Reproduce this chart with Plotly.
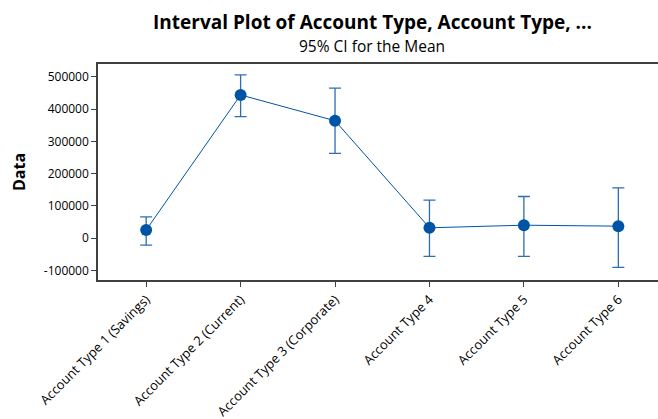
import plotly.graph_objects as go

categories = ["Account Type 1 (Savings)", "Account Type 2 (Current)", "Account Type 3 (Corporate)",
              "Account Type 4", "Account Type 5", "Account Type 6"]
means = [25000, 444000, 364000, 32000, 40000, 37000]
upper = [66000, 506000, 465000, 118000, 129000, 156000]
lower = [-22000, 377000, 263000, -57000, -57000, -91000]
y_ticks = [-100000, 0, 100000, 200000, 300000, 400000, 500000]

err_plus = [u - m for u, m in zip(upper, means)]
err_minus = [m - l for m, l in zip(means, lower)]

blue = "#0054A6"
font_family = "Open Sans, Noto Sans, sans-serif"

fig = go.Figure()
fig.add_trace(go.Scatter(
    x=list(range(len(categories))), y=means, mode="lines+markers",
    line=dict(color=blue, width=1),
    marker=dict(color=blue, size=12),
    error_y=dict(type="data", symmetric=False, array=err_plus, arrayminus=err_minus,
                 color="#2d6db5", thickness=1.3, width=6),
    showlegend=False,
))

fig.update_layout(
    width=658, height=419,
    margin=dict(l=98, r=0, t=64, b=139),
    paper_bgcolor="white", plot_bgcolor="white",
    font=dict(family=font_family, color="#000000"),
    annotations=[
        dict(text="<b>Interval Plot of Account Type, Account Type, ...</b>", x=0.49, y=1, xref="paper",
             yref="paper", yanchor="middle", yshift=42, showarrow=False,
             font=dict(size=19, family=font_family)),
        dict(text="95% CI for the Mean", x=0.49, y=1, xref="paper", yref="paper", yanchor="middle",
             yshift=18, showarrow=False, font=dict(size=15.5, family=font_family)),
    ],
)
fig.update_xaxes(
    range=[-0.51, 5.42], tickmode="array", tickvals=list(range(len(categories))),
    ticktext=categories, tickangle=-45, ticks="outside", ticklen=5, tickcolor="#404040",
    showline=True, linecolor="#404040", linewidth=1.5, mirror=True, showgrid=False, zeroline=False,
    tickfont=dict(size=13, family=font_family), automargin=False,
)
fig.update_yaxes(
    range=[-130000, 540000], tickmode="array", tickvals=y_ticks,
    ticktext=[str(v) for v in y_ticks], ticks="outside", ticklen=5, tickcolor="#404040",
    showline=True, linecolor="#404040", linewidth=1.5, mirror=False, showgrid=False, zeroline=False,
    tickfont=dict(size=12, family=font_family), automargin=False,
    title=dict(text="<b>Data</b>", font=dict(size=16, family=font_family), standoff=14),
)

fig.write_html("out.html", config={"displayModeBar": False},
               post_script="document.body.style.margin='0';document.body.style.overflow='hidden';")
